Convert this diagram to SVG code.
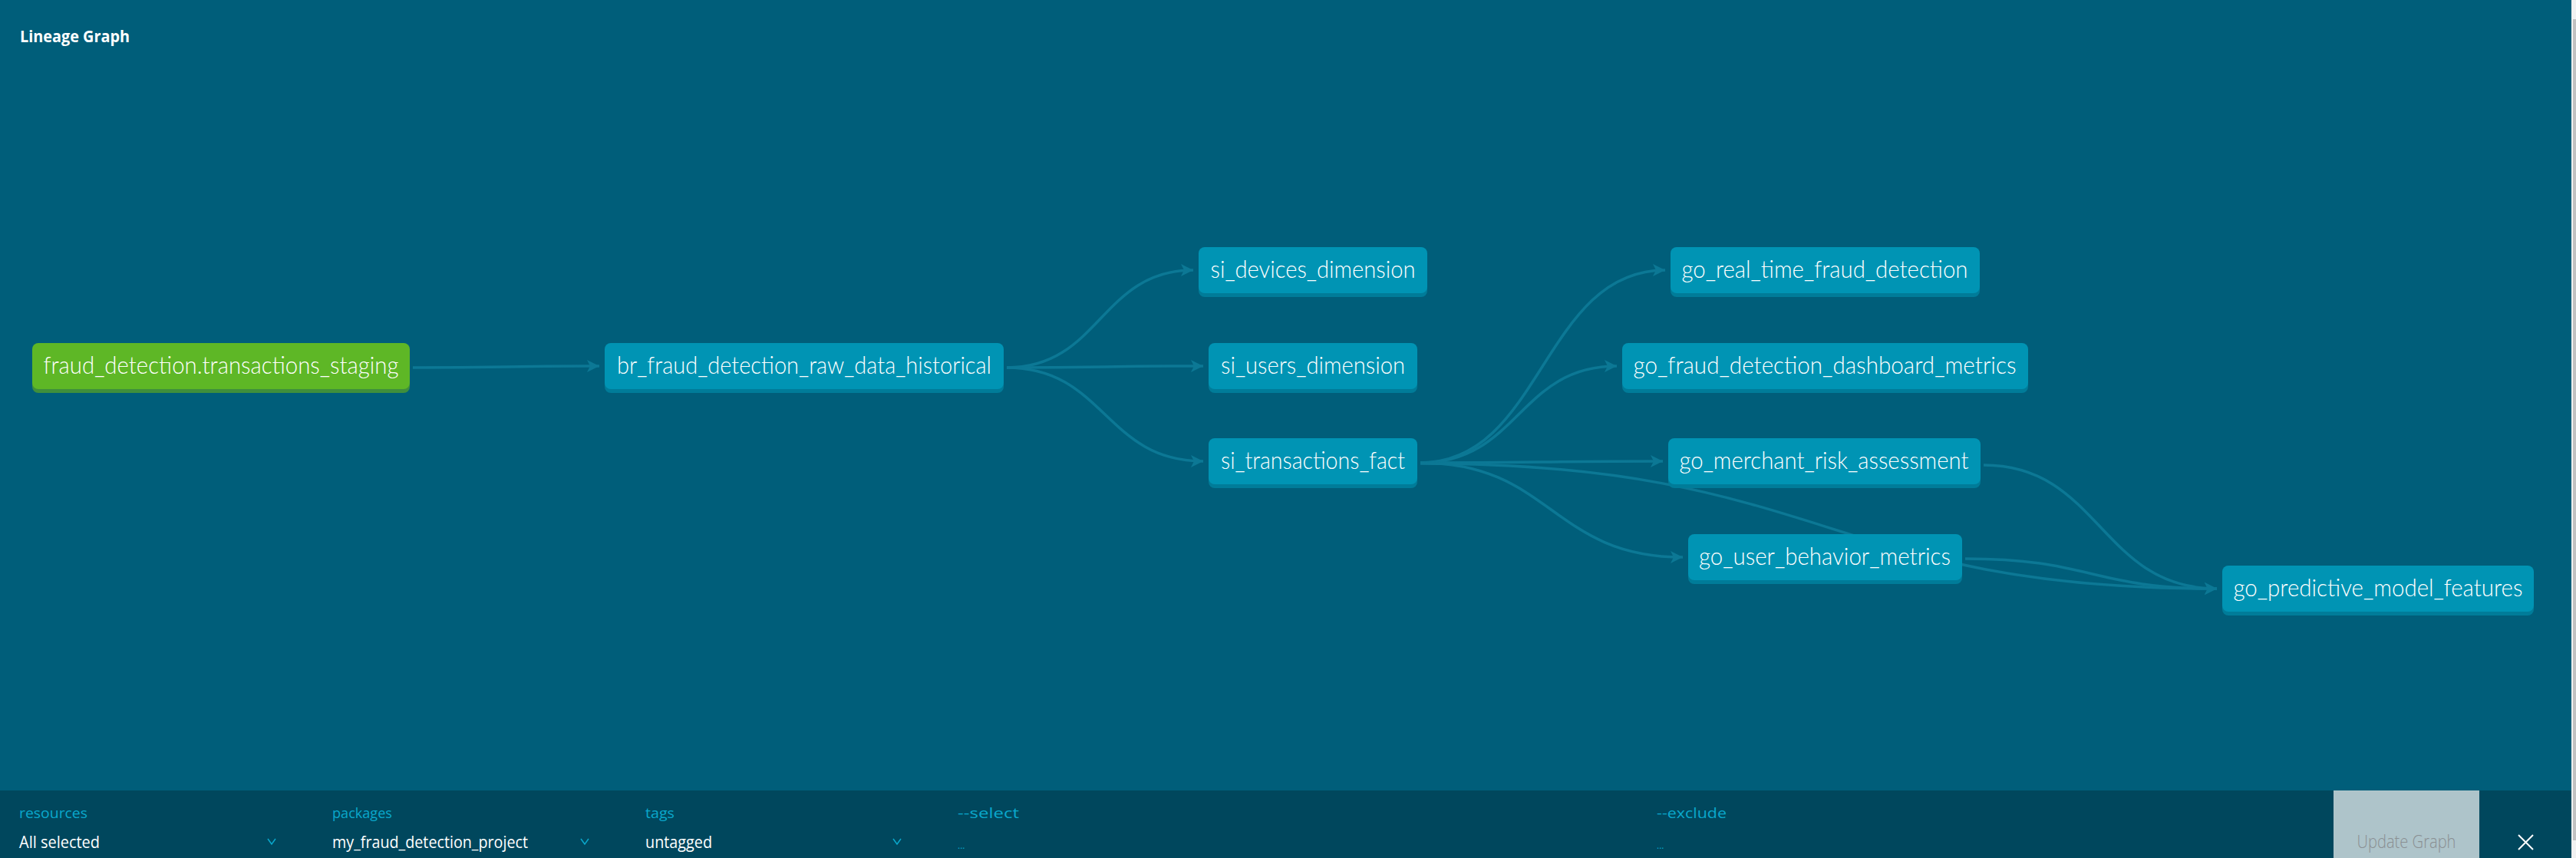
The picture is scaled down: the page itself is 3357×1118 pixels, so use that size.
<svg xmlns="http://www.w3.org/2000/svg" width="3357" height="1118" viewBox="0 0 3357 1118">
<defs>
<style>
.bg{fill:#005e7a}
.node rect.body{fill:#0094b4}
.node rect.sh{fill:#007c99}
.src rect.body{fill:#5eb726}
.src rect.sh{fill:#3f8f3c}
.node text{font-family:"Lato","Open Sans","Noto Sans",sans-serif;font-weight:300;font-size:31px;fill:#ffffff;text-anchor:middle}
.edge{fill:none;stroke:#0c7895;stroke-width:3.5}
.lbl{font-family:"Open Sans","Noto Sans",sans-serif;font-size:18px;fill:#0aa8cc}
.val{font-family:"Open Sans","Noto Sans",sans-serif;font-size:21px;fill:#ffffff}
.chev{fill:none;stroke:#0aa8cc;stroke-width:1.5}
</style>
<marker id="arr" markerUnits="userSpaceOnUse" markerWidth="20" markerHeight="18" viewBox="0 0 20 18" refX="18" refY="9" orient="auto">
<path d="M2,1 L18,9 L2,17 L6,9 Z" fill="#0c7895"/>
</marker>
</defs>
<rect class="bg" x="0" y="0" width="3357" height="1118"/>
<text x="26" y="55" font-family="Open Sans, Noto Sans, sans-serif" font-weight="700" font-size="21" fill="#ffffff" textLength="143" lengthAdjust="spacingAndGlyphs">Lineage Graph</text>

<g id="edges">
<path class="edge" marker-end="url(#arr)" d="M538,479 C660,479 660,477 781,477"/>
<path class="edge" marker-end="url(#arr)" d="M1312,479 C1434,479 1434,352 1555,352"/>
<path class="edge" marker-end="url(#arr)" d="M1312,479 C1440,479 1440,477 1568,477"/>
<path class="edge" marker-end="url(#arr)" d="M1312,479 C1440,479 1440,601 1568,601"/>
<path class="edge" marker-end="url(#arr)" d="M1851,603 C2010,603 2010,352 2170,352"/>
<path class="edge" marker-end="url(#arr)" d="M1851,603 C1979,603 1979,477 2107,477"/>
<path class="edge" marker-end="url(#arr)" d="M1851,603 C2009,603 2009,601 2167,601"/>
<path class="edge" marker-end="url(#arr)" d="M1851,603 C2022,603 2022,726 2193,726"/>
<path class="edge" marker-end="url(#arr)" d="M1851,604 C2380,604 2378,767 2889,767"/>
<path class="edge" marker-end="url(#arr)" d="M2585,606 C2737,606 2737,767 2889,767"/>
<path class="edge" marker-end="url(#arr)" d="M2561,728 C2725,728 2725,767 2889,767"/>
</g>

<g id="n-staging" class="node src">
<rect class="sh" x="42" y="452" width="492" height="60" rx="8"/>
<rect class="body" x="42" y="447" width="492" height="60" rx="8"/>
<text x="288" y="487" textLength="463" lengthAdjust="spacingAndGlyphs">fraud_detection.transactions_staging</text>
</g>
<g id="n-br" class="node">
<rect class="sh" x="788" y="452" width="520" height="60" rx="8"/>
<rect class="body" x="788" y="447" width="520" height="60" rx="8"/>
<text x="1048" y="487" textLength="488" lengthAdjust="spacingAndGlyphs">br_fraud_detection_raw_data_historical</text>
</g>
<g id="n-si-devices" class="node">
<rect class="sh" x="1562" y="327" width="298" height="60" rx="8"/>
<rect class="body" x="1562" y="322" width="298" height="60" rx="8"/>
<text x="1711" y="362" textLength="267" lengthAdjust="spacingAndGlyphs">si_devices_dimension</text>
</g>
<g id="n-si-users" class="node">
<rect class="sh" x="1575" y="452" width="272" height="60" rx="8"/>
<rect class="body" x="1575" y="447" width="272" height="60" rx="8"/>
<text x="1711" y="487" textLength="240" lengthAdjust="spacingAndGlyphs">si_users_dimension</text>
</g>
<g id="n-si-trans" class="node">
<rect class="sh" x="1575" y="576" width="272" height="60" rx="8"/>
<rect class="body" x="1575" y="571" width="272" height="60" rx="8"/>
<text x="1711" y="611" textLength="240" lengthAdjust="spacingAndGlyphs">si_transactions_fact</text>
</g>
<g id="n-go-rt" class="node">
<rect class="sh" x="2177" y="327" width="403" height="60" rx="8"/>
<rect class="body" x="2177" y="322" width="403" height="60" rx="8"/>
<text x="2378" y="362" textLength="373" lengthAdjust="spacingAndGlyphs">go_real_time_fraud_detection</text>
</g>
<g id="n-go-dash" class="node">
<rect class="sh" x="2114" y="452" width="529" height="60" rx="8"/>
<rect class="body" x="2114" y="447" width="529" height="60" rx="8"/>
<text x="2378" y="487" textLength="499" lengthAdjust="spacingAndGlyphs">go_fraud_detection_dashboard_metrics</text>
</g>
<g id="n-go-merch" class="node">
<rect class="sh" x="2174" y="576" width="407" height="60" rx="8"/>
<rect class="body" x="2174" y="571" width="407" height="60" rx="8"/>
<text x="2377" y="611" textLength="377" lengthAdjust="spacingAndGlyphs">go_merchant_risk_assessment</text>
</g>
<g id="n-go-user" class="node">
<rect class="sh" x="2200" y="701" width="357" height="60" rx="8"/>
<rect class="body" x="2200" y="696" width="357" height="60" rx="8"/>
<text x="2378" y="736" textLength="328" lengthAdjust="spacingAndGlyphs">go_user_behavior_metrics</text>
</g>
<g id="n-go-pred" class="node">
<rect class="sh" x="2896" y="742" width="406" height="60" rx="8"/>
<rect class="body" x="2896" y="737" width="406" height="60" rx="8"/>
<text x="3099" y="777" textLength="377" lengthAdjust="spacingAndGlyphs">go_predictive_model_features</text>
</g>

<g id="toolbar">
<rect x="0" y="1030" width="3357" height="88" fill="#00475d"/>
<text class="lbl" x="25" y="1066" textLength="89" lengthAdjust="spacingAndGlyphs">resources</text>
<text class="lbl" x="433" y="1066" textLength="78" lengthAdjust="spacingAndGlyphs">packages</text>
<text class="lbl" x="841" y="1066" textLength="38" lengthAdjust="spacingAndGlyphs">tags</text>
<text class="lbl" x="1248" y="1066" textLength="80" lengthAdjust="spacingAndGlyphs">--select</text>
<text class="lbl" x="2159" y="1066" textLength="91" lengthAdjust="spacingAndGlyphs">--exclude</text>
<text class="val" x="25" y="1105" textLength="105" lengthAdjust="spacingAndGlyphs">All selected</text>
<text class="val" x="433" y="1105" textLength="255" lengthAdjust="spacingAndGlyphs">my_fraud_detection_project</text>
<text class="val" x="841" y="1105" textLength="87" lengthAdjust="spacingAndGlyphs">untagged</text>
<polyline class="chev" points="349,1093 354,1100 359,1093"/>
<polyline class="chev" points="757,1093 762,1100 767,1093"/>
<polyline class="chev" points="1164,1093 1169,1100 1174,1093"/>
<text x="1248" y="1106" font-family="Open Sans, sans-serif" font-size="12" fill="#0aa8cc">...</text>
<text x="2159" y="1106" font-family="Open Sans, sans-serif" font-size="12" fill="#0aa8cc">...</text>
<rect x="3041" y="1030" width="190" height="88" fill="#aec4ca"/>
<text x="3136" y="1105" font-family="Open Sans, Noto Sans, sans-serif" font-size="23" font-weight="300" fill="#8a8f92" text-anchor="middle" textLength="129" lengthAdjust="spacingAndGlyphs">Update Graph</text>
<path d="M3282,1088 L3301,1107 M3301,1088 L3282,1107" stroke="#ffffff" stroke-width="2" fill="none"/>
</g>
<rect x="3351" y="0" width="6" height="1118" fill="#f1f1f1"/>
<rect x="3353" y="25" width="4" height="1070" fill="#c1c1c1"/>
</svg>
